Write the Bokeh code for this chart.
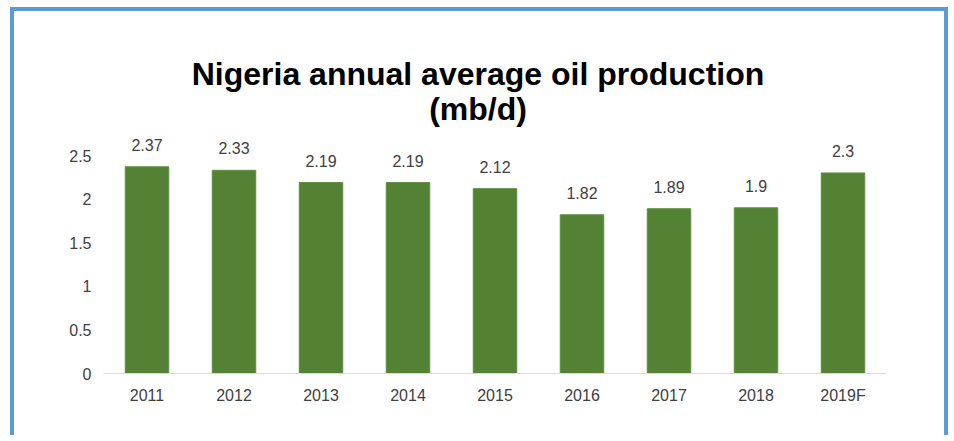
from bokeh.plotting import figure
from bokeh.models import ColumnDataSource, LabelSet, Label, FixedTicker, CustomJSTickFormatter
from bokeh.core.properties import value
from bokeh.embed import file_html
from bokeh.resources import INLINE

# ---- data ----
years = ["2011", "2012", "2013", "2014", "2015", "2016", "2017", "2018", "2019F"]
production = [2.37, 2.33, 2.19, 2.19, 2.12, 1.82, 1.89, 1.9, 2.3]
value_labels = ["2.37", "2.33", "2.19", "2.19", "2.12", "1.82", "1.89", "1.9", "2.3"]
y_ticks = [0, 0.5, 1, 1.5, 2, 2.5]
title_lines = ["Nigeria annual average oil production", "(mb/d)"]

FONT = "Liberation Sans"

# ---- layout (pixels) ----
canvas_left, canvas_top = 14, 11
frame_left, frame_right, frame_bottom = 103, 886, 373
outer_right, canvas_bottom = 948, 439
px_per_unit = 87.2
frame_height = frame_bottom - canvas_top
y_end = frame_height / px_per_unit
canvas_w = outer_right - 10

src = ColumnDataSource(dict(year=years, value=production, label=value_labels))

p = figure(x_range=years, y_range=(0, y_end),
           width=canvas_w, height=canvas_bottom - canvas_top,
           output_backend="svg", toolbar_location=None,
           min_border_left=frame_left - canvas_left,
           min_border_right=canvas_w - (frame_right - canvas_left),
           min_border_top=0, min_border_bottom=canvas_bottom - frame_bottom)

p.vbar(x="year", top="value", width=0.5, source=src,
       fill_color="#548235", line_color="#5f8f40", line_width=1)

labels = LabelSet(x="year", y="value", text="label", source=src,
                  text_align="center", text_baseline="alphabetic", y_offset=16,
                  text_font=value(FONT), text_font_size="16px", text_color="#404040")
p.add_layout(labels)

# title lines (screen units relative to the plot frame)
title_cx = 477.5
for txt, base in zip(title_lines, [73, 108]):
    p.add_layout(Label(x=title_cx - frame_left, y=frame_bottom - base,
                       x_units="screen", y_units="screen", text=txt,
                       text_align="center", text_baseline="alphabetic",
                       text_font=FONT, text_font_size="32px",
                       text_font_style="bold", text_color="#000000"))

p.xgrid.visible = False
p.ygrid.visible = False
p.outline_line_color = None
p.background_fill_color = "white"
p.border_fill_color = "white"

ya = p.yaxis[0]
ya.ticker = FixedTicker(ticks=y_ticks)
ya.formatter = CustomJSTickFormatter(code="return tick.toString()")
ya.axis_line_color = None
ya.major_tick_line_color = None
ya.minor_tick_line_color = None
ya.major_tick_out = 0
ya.major_tick_in = 0
ya.major_label_standoff = 12
ya.major_label_text_font = FONT
ya.major_label_text_font_size = "16px"
ya.major_label_text_color = "#404040"

xa = p.xaxis[0]
xa.axis_line_color = "#D9D9D9"
xa.axis_line_width = 1
xa.major_tick_line_color = None
xa.minor_tick_line_color = None
xa.major_tick_out = 0
xa.major_tick_in = 0
xa.major_label_standoff = 13
xa.major_label_text_font = FONT
xa.major_label_text_font_size = "16px"
xa.major_label_text_color = "#404040"

p.styles = {"border-top": "4px solid #5B9BD5",
            "border-left": "4px solid #5B9BD5",
            "border-right": "4px solid #5B9BD5",
            "margin-left": "10px", "margin-top": "7px"}

open("out.html", "w").write(file_html(p, INLINE))
